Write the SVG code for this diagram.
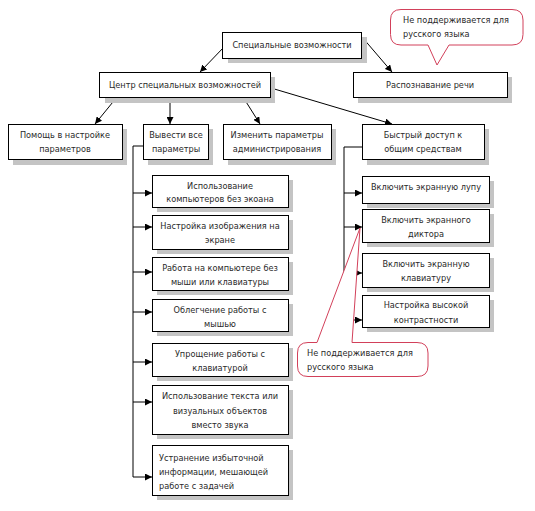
<svg xmlns="http://www.w3.org/2000/svg" width="535" height="511" viewBox="0 0 535 511">
<style>
.sh{fill:#c4c4c4}
.bx{fill:#fff;stroke:#000;stroke-width:1}
text{font-family:"DejaVu Sans","Liberation Sans",sans-serif;font-size:8.2px;fill:#2a2a2a}
.c{text-anchor:middle}
.ln{fill:none;stroke:#000;stroke-width:1}
.ar{fill:none;stroke:#000;stroke-width:1;marker-end:url(#ah)}
.co{fill:#fff;stroke:#d2405a;stroke-width:1}
</style>
<defs>
<marker id="ah" markerUnits="userSpaceOnUse" markerWidth="7" markerHeight="7" refX="7" refY="3.5" orient="auto">
<path d="M0,0 L7,3.5 L0,7 z" fill="#000"/>
</marker>
</defs>
<rect width="535" height="511" fill="#fff"/>

<g id="connectors">
<line class="ar" x1="224" y1="47" x2="200" y2="72"/>
<line class="ar" x1="362" y1="37" x2="392" y2="72"/>
<line class="ar" x1="117" y1="97" x2="95" y2="124"/>
<line class="ar" x1="170" y1="97" x2="170" y2="124"/>
<line class="ar" x1="243" y1="97" x2="260" y2="124"/>
<line class="ar" x1="271" y1="88" x2="392" y2="124"/>
<polyline class="ln" points="143,146 133,146 133,477"/>
<line class="ar" x1="133" y1="193" x2="152" y2="193"/>
<line class="ar" x1="133" y1="227" x2="152" y2="227"/>
<line class="ar" x1="133" y1="272" x2="152" y2="272"/>
<line class="ar" x1="133" y1="312" x2="152" y2="312"/>
<line class="ar" x1="133" y1="362" x2="152" y2="362"/>
<line class="ar" x1="133" y1="402" x2="152" y2="402"/>
<line class="ar" x1="133" y1="477" x2="152" y2="477"/>
<polyline class="ln" points="362,147 344,147 344,320"/>
<line class="ar" x1="344" y1="193" x2="362" y2="193"/>
<line class="ar" x1="344" y1="227" x2="362" y2="227"/>
<line class="ar" x1="344" y1="273" x2="362" y2="273"/>
<line class="ar" x1="344" y1="320" x2="362" y2="320"/>
</g>

<g id="n-spec">
<rect class="sh" x="228" y="37" width="139" height="26"/>
<rect class="bx" x="222.5" y="32.5" width="139" height="26"/>
<text class="c" x="292" y="48">Специальные возможности</text>
</g>
<g id="n-center">
<rect class="sh" x="105" y="77" width="170" height="26"/>
<rect class="bx" x="99.5" y="72.5" width="171" height="25"/>
<text class="c" x="185" y="88">Центр специальных возможностей</text>
</g>
<g id="n-speech">
<rect class="sh" x="358" y="77" width="154" height="26"/>
<rect class="bx" x="353.5" y="72.5" width="154" height="25"/>
<text class="c" x="430" y="88">Распознавание речи</text>
</g>
<g id="n-help">
<rect class="sh" x="13" y="129" width="114" height="36"/>
<rect class="bx" x="8.5" y="124.5" width="114" height="35"/>
<text class="c" x="65" y="138">Помощь в настройке</text>
<text class="c" x="65" y="152">параметров</text>
</g>
<g id="n-all">
<rect class="sh" x="148" y="129" width="65" height="36"/>
<rect class="bx" x="143.5" y="124.5" width="65" height="35"/>
<text class="c" x="176" y="138">Вывести все</text>
<text class="c" x="176" y="152">параметры</text>
</g>
<g id="n-admin">
<rect class="sh" x="228" y="129" width="108" height="36"/>
<rect class="bx" x="223.5" y="124.5" width="108" height="35"/>
<text class="c" x="277" y="138">Изменить параметры</text>
<text class="c" x="277" y="152">администрирования</text>
</g>
<g id="n-quick">
<rect class="sh" x="367" y="129" width="122" height="36"/>
<rect class="bx" x="362.5" y="124.5" width="122" height="35"/>
<text class="c" x="423" y="138">Быстрый доступ к</text>
<text class="c" x="423" y="152">общим средствам</text>
</g>

<g id="n-l1">
<rect class="sh" x="157" y="180" width="136" height="32"/>
<rect class="bx" x="152.5" y="175.5" width="136" height="32"/>
<text class="c" x="220" y="189">Использование</text>
<text class="c" x="220" y="202">компьютеров без экоана</text>
</g>
<g id="n-l2">
<rect class="sh" x="157" y="220" width="136" height="34"/>
<rect class="bx" x="152.5" y="215.5" width="136" height="34"/>
<text class="c" x="220" y="229">Настройка изображения на</text>
<text class="c" x="220" y="243">экране</text>
</g>
<g id="n-l3">
<rect class="sh" x="157" y="262" width="136" height="33"/>
<rect class="bx" x="152.5" y="257.5" width="136" height="33"/>
<text class="c" x="220" y="271">Работа на компьютере без</text>
<text class="c" x="220" y="285">мыши или клавиатуры</text>
</g>
<g id="n-l4">
<rect class="sh" x="157" y="304" width="136" height="32"/>
<rect class="bx" x="152.5" y="299.5" width="136" height="32"/>
<text class="c" x="220" y="313">Облегчение работы с</text>
<text class="c" x="220" y="327">мышью</text>
</g>
<g id="n-l5">
<rect class="sh" x="157" y="348" width="136" height="33"/>
<rect class="bx" x="152.5" y="343.5" width="136" height="33"/>
<text class="c" x="220" y="357">Упрощение работы с</text>
<text class="c" x="220" y="371">клавиатурой</text>
</g>
<g id="n-l6">
<rect class="sh" x="157" y="390" width="136" height="49"/>
<rect class="bx" x="152.5" y="385.5" width="136" height="49"/>
<text class="c" x="220" y="399">Использование текста или</text>
<text class="c" x="220" y="414">визуальных объектов</text>
<text class="c" x="220" y="428">вместо звука</text>
</g>
<g id="n-l7">
<rect class="sh" x="157" y="450" width="136" height="50"/>
<rect class="bx" x="152.5" y="445.5" width="136" height="50"/>
<text x="159" y="461">Устранение избыточной</text>
<text x="159" y="475">информации, мешающей</text>
<text x="159" y="489">работе с задачей</text>
</g>

<g id="n-r1">
<rect class="sh" x="367" y="181" width="127" height="27"/>
<rect class="bx" x="362.5" y="176.5" width="127" height="27"/>
<text class="c" x="426" y="190">Включить экранную лупу</text>
</g>
<g id="n-r2">
<rect class="sh" x="367" y="214" width="127" height="33"/>
<rect class="bx" x="362.5" y="209.5" width="127" height="33"/>
<text class="c" x="426" y="223">Включить экранного</text>
<text class="c" x="426" y="237">диктора</text>
</g>
<g id="n-r3">
<rect class="sh" x="367" y="258" width="127" height="34"/>
<rect class="bx" x="362.5" y="253.5" width="127" height="34"/>
<text class="c" x="426" y="267">Включить экранную</text>
<text class="c" x="426" y="281">клавиатуру</text>
</g>
<g id="n-r4">
<rect class="sh" x="367" y="300" width="127" height="32"/>
<rect class="bx" x="362.5" y="295.5" width="127" height="32"/>
<text class="c" x="426" y="308">Настройка высокой</text>
<text class="c" x="426" y="323">контрастности</text>
</g>

<g id="callout-top">
<path class="co" d="M401,9.5 H512 Q523,9.5 523,20 V34.5 Q523,45 512,45 H449 L437,65 L428,45 H401 Q390.5,45 390.5,34.5 V20 Q390.5,9.5 401,9.5 Z"/>
<text x="403" y="23">Не поддерживается для</text>
<text x="403" y="37">русского языка</text>
</g>
<g id="callout-bottom">
<path class="co" d="M308,342.5 H317 L360,228 L352,342.5 H417 Q428,342.5 428,353 V366 Q428,376.5 417,376.5 H308 Q297.5,376.5 297.5,366 V353 Q297.5,342.5 308,342.5 Z"/>
<text x="307" y="356">Не поддерживается для</text>
<text x="307" y="370">русского языка</text>
</g>
</svg>
